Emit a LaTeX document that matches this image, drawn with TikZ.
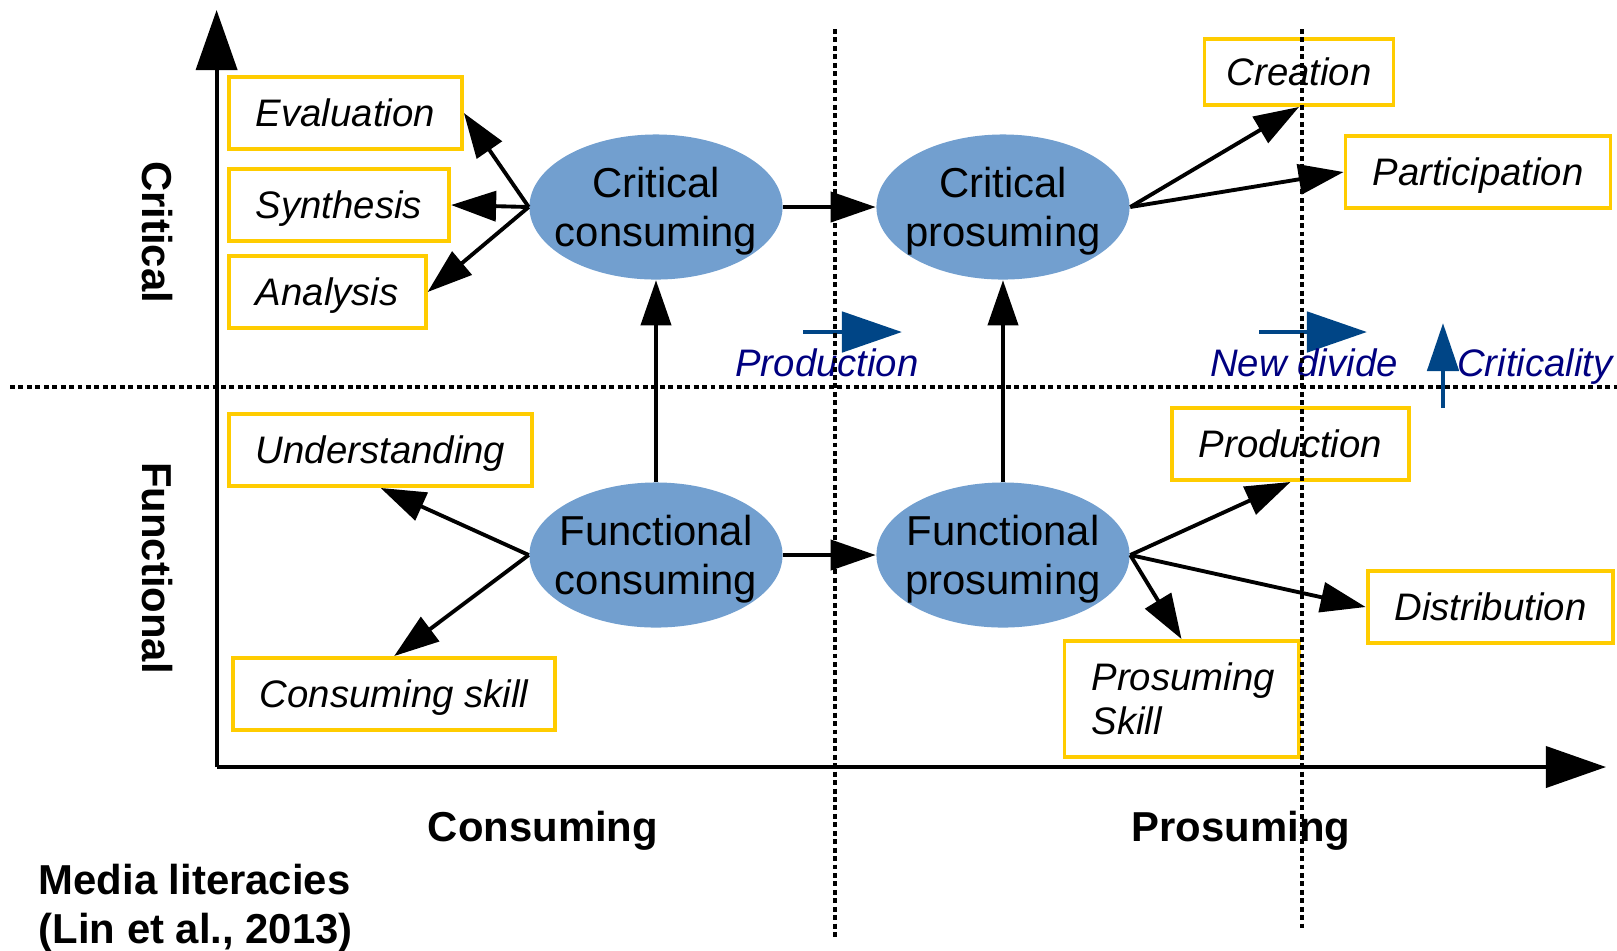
\documentclass[tikz,border=0pt]{standalone}
\usepackage{fontspec}
\setmainfont{Liberation Sans}
\usepackage{xcolor}
\definecolor{ellblue}{HTML}{729FCF}
\definecolor{boxgold}{HTML}{FFCC00}
\definecolor{legblue}{HTML}{004586}
\definecolor{legnavy}{HTML}{000080}
\usetikzlibrary{arrows.meta, positioning, shapes.geometric}

\tikzset{
  litframe/.style={draw=boxgold, line width=1.1pt, inner xsep=0.27cm, minimum height=0.72cm,
    font=\fontsize{10.9}{12.5}\selectfont\itshape},
  litbox/.style={litframe, text height=7.8pt, text depth=0pt},
  litmode/.style={ellipse, fill=ellblue, minimum width=2.53cm, minimum height=1.45cm,
    inner xsep=-5pt, inner ysep=0pt, text depth=0pt, align=center,
    font=\fontsize{11.9}{13.8}\selectfont},
  flow/.style={-{Triangle[length=0.45cm, width=0.3cm]}, line width=1.1pt},
  axisline/.style={-{Triangle[length=0.6cm, width=0.41cm]}, line width=1.1pt},
  divider/.style={line width=0.95pt, dash pattern=on 1.4pt off 1pt},
  legarrow/.style={-{Triangle[length=0.6cm, width=0.4cm]}, legblue, line width=1.4pt},
  legtext/.style={legnavy, text depth=0pt, font=\fontsize{10.9}{12.5}\selectfont\itshape},
  axislabel/.style={font=\fontsize{11.9}{13.8}\selectfont\bfseries}
}

\begin{document}
\begin{tikzpicture}[x=0.01cm, y=-0.01cm]
  \useasboundingbox (0,0) rectangle (1617,950);

  % axes
  \coordinate (origin) at (216.6,767);
  \coordinate (ytip) at (216.6,10);
  \coordinate (xtip) at (1606,767);
  \draw[axisline] (origin) -- (ytip);
  \draw[axisline] (origin) -- (xtip);

  % axis labels
  \node[axislabel, rotate=-90] (crit) at (157,232) {Critical};
  \node[axislabel, rotate=-90] (func) at (157,568) {Functional};
  \node[axislabel] (cons) at (543,831) {Consuming};
  \node[axislabel] (pros) at (1241,831) {Prosuming};
  \node[axislabel, align=left, anchor=west, inner sep=0pt] (title) at (38,908)
    {Media literacies\\(Lin et al., 2013)};

  % the four modes
  \node[litmode] (ccons) at (656,207) {Critical\\consuming};
  \node[litmode] (cpros) at (1003,207) {Critical\\prosuming};
  \node[litmode] (fcons) at (656,555) {Functional\\consuming};
  \node[litmode] (fpros) at (1003,555) {Functional\\prosuming};

  % skills
  \node[litbox, anchor=west] (eval) at (227,113) {Evaluation};
  \node[litbox, anchor=west] (synt) at (227,205) {Synthesis};
  \node[litbox, anchor=west] (anal) at (227,292) {Analysis};
  \node[litbox, anchor=west] (unde) at (227,450) {Understanding};
  \node[litbox, anchor=west] (cskill) at (231,694) {Consuming skill};
  \node[litbox, inner xsep=0.22cm, minimum height=0.66cm] (crea) at (1299,72) {Creation};
  \node[litbox] (part) at (1478,172) {Participation};
  \node[litbox] (prod) at (1290.5,444) {Production};
  \node[litbox] (dist) at (1490.5,607) {Distribution};
  \node[litframe, align=left, text width=1.8cm, minimum height=1.16cm] (pskill) at (1181.5,699)
    {Prosuming\\Skill};

  % connectors
  \draw[flow] (ccons.west) -- (eval.east);
  \draw[flow] (ccons.west) -- (synt.east);
  \draw[flow] (ccons.west) -- (anal.east);
  \draw[flow] (ccons) -- (cpros);
  \draw[flow] (fcons) -- (ccons);
  \draw[flow] (fpros) -- (cpros);
  \draw[flow] (fcons) -- (fpros);
  \draw[flow] (cpros.east) -- (crea.south);
  \draw[flow] (cpros.east) -- (part.west);
  \draw[flow] (fcons.west) -- (unde.south);
  \draw[flow] (fcons.west) -- (cskill.north);
  \draw[flow] (fpros.east) -- (prod.south);
  \draw[flow] (fpros.east) -- (dist.west);
  \draw[flow] (fpros.east) -- (pskill.north);

  % legend
  \coordinate (pa) at (803,332);
  \coordinate (pb) at (902,332);
  \draw[legarrow] (pa) -- (pb);
  \node[legtext] (pl) at (827,363) {Production};
  \coordinate (na) at (1259,332);
  \coordinate (nb) at (1367,332);
  \draw[legarrow] (na) -- (nb);
  \node[legtext] (nl) at (1304,363) {New divide};
  \coordinate (ca) at (1443,408);
  \coordinate (cb) at (1443,323);
  \draw[legarrow, -{Triangle[length=0.48cm, width=0.31cm]}] (ca) -- (cb);
  \node[legtext] (cl) at (1535,363) {Criticality};

  % dividers
  \coordinate (h1) at (10,387);
  \coordinate (h2) at (1617,387);
  \coordinate (v1a) at (835,29);
  \coordinate (v1b) at (835,940);
  \coordinate (v2a) at (1302,29);
  \coordinate (v2b) at (1302,928);
  \draw[divider] (h1) -- (h2);
  \draw[divider] (v1a) -- (v1b);
  \draw[divider] (v2a) -- (v2b);
\end{tikzpicture}
\end{document}
